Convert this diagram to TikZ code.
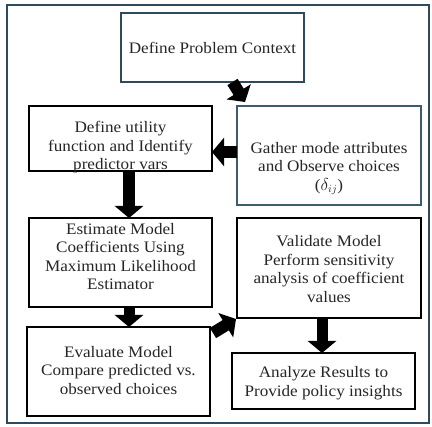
\documentclass[tikz,border=0pt]{standalone}
\usepackage{fontspec}
\setmainfont{Liberation Serif}[FakeStretch=1.07]
\usetikzlibrary{arrows.meta}
\definecolor{slate}{HTML}{2E4A5C}
\definecolor{slatebox}{HTML}{3F5B6E}
\definecolor{ink}{HTML}{262626}
\tikzset{
  box/.style={draw=black, line width=1.5pt, inner sep=0pt, outer sep=0pt, fill=white},
  txt/.style={align=center, inner sep=0pt, text=ink, font=\fontsize{16}{18.5}\selectfont},
  blk/.style={black, line width=12pt, -{Triangle[width=28pt,length=12pt]}},
}
\begin{document}
\begin{tikzpicture}[x=1pt,y=-1pt]
\useasboundingbox (0,0) rectangle (432,427);
\fill[white] (0,0) rectangle (432,427);
\draw[slate, line width=1.5pt] (7,5) rectangle (429,423);

\node[box, draw=slate, line width=2pt, minimum width=183pt, minimum height=69pt] (b1) at (212.5,47.5) {};
\node[txt] (t1) at (b1.center) {Define Problem Context};

\node[box, minimum width=183pt, minimum height=65pt] (b2) at (120.5,138.5) {};
\node[txt] (t2) at ([yshift=-9pt]b2.center) {Define utility\\function and Identify\\predictor vars};

\node[box, draw=slatebox, line width=1.3pt, minimum width=184pt, minimum height=99pt] (b3) at (329,155.5) {};
\node[txt] (t3) at ([yshift=-13pt]b3.center) {Gather mode attributes\\and Observe choices\\($\delta_{ij}$)};

\node[box, minimum width=183pt, minimum height=89pt] (b4) at (120.5,262.5) {};
\node[txt] (t4) at ([yshift=6pt]b4.center) {Estimate Model\\Coefficients Using\\Maximum Likelihood\\Estimator};

\node[box, minimum width=183pt, minimum height=89pt] (b5) at (118.5,371.5) {};
\node[txt] (t5) at ([yshift=1pt]b5.center) {Evaluate Model\\Compare predicted vs.\\observed choices};

\node[box, minimum width=184pt, minimum height=100pt] (b6) at (329,268) {};
\node[txt] (t6) at ([yshift=-1pt]b6.center) {Validate Model\\Perform sensitivity\\analysis of coefficient\\values};

\node[box, minimum width=183pt, minimum height=56pt] (b7) at (323.5,381) {};
\node[txt] (t7) at ([yshift=-2pt]b7.center) {Analyze Results to\\Provide policy insights};

% block arrows
\draw[blk] ([xshift=20pt]b1.south) -- ([xshift=-84pt,yshift=4pt]b3.north);
\draw[blk] ([yshift=3.5pt]b3.west) -- ([yshift=-13.5pt]b2.east);
\draw[blk] ([xshift=8.5pt]b2.south) -- ([xshift=8.5pt]b4.north);
\draw[blk, line width=11pt] ([xshift=8.5pt]b4.south) -- ([xshift=10.5pt]b5.north);
\draw[blk] ([xshift=3pt,yshift=-6pt]b5.north east) -- ([xshift=-1pt,yshift=-1pt]b6.south west);
\draw[blk, line width=11pt] ([xshift=-7pt]b6.south) -- ([xshift=-1.5pt]b7.north);
\end{tikzpicture}
\end{document}
